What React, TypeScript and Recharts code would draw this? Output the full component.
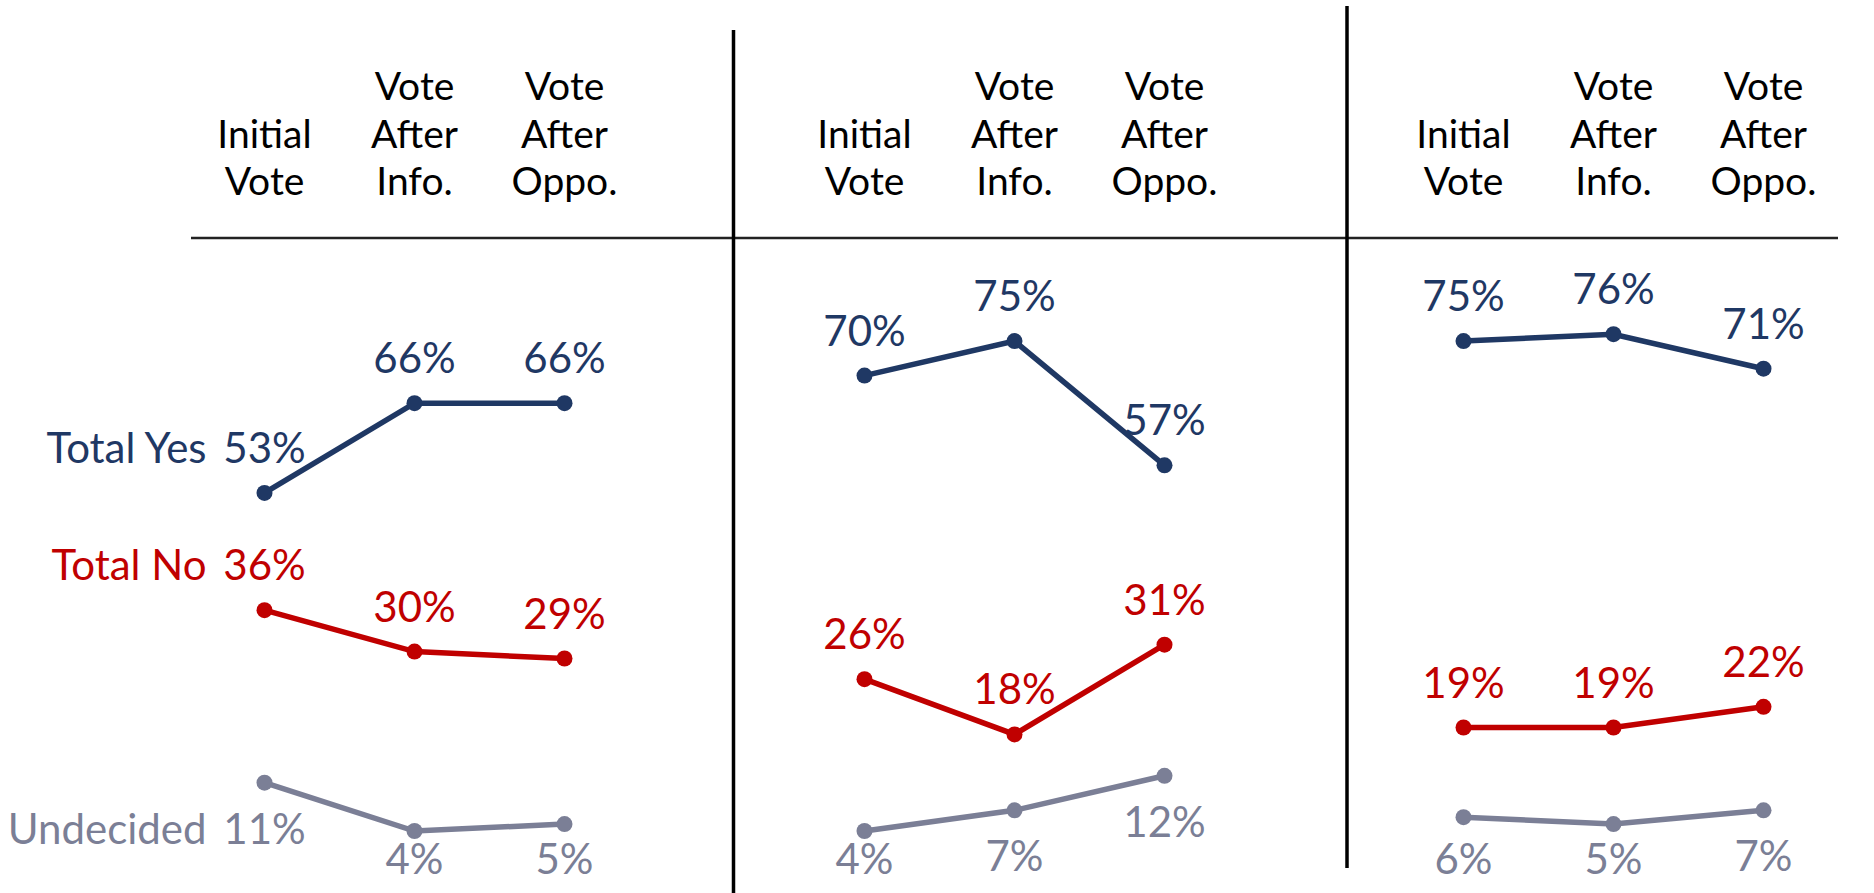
import { LineChart, Line, XAxis, YAxis, LabelList } from "recharts";

// column headers, one entry per category, split into text rows
const categories = ["Initial Vote", "Vote After Info.", "Vote After Oppo."];
const headerLines = [
  ["Initial", "Vote"],
  ["Vote", "After", "Info."],
  ["Vote", "After", "Oppo."],
];

const seriesNames = ["Total Yes", "Total No", "Undecided"];

// panel 1
const yesPanel1 = [53, 66, 66];
const noPanel1 = [36, 30, 29];
const undecidedPanel1 = [11, 4, 5];
// panel 2
const yesPanel2 = [70, 75, 57];
const noPanel2 = [26, 18, 31];
const undecidedPanel2 = [4, 7, 12];
// panel 3
const yesPanel3 = [75, 76, 71];
const noPanel3 = [19, 19, 22];
const undecidedPanel3 = [6, 5, 7];

const panels = [
  { yes: yesPanel1, no: noPanel1, und: undecidedPanel1 },
  { yes: yesPanel2, no: noPanel2, und: undecidedPanel2 },
  { yes: yesPanel3, no: noPanel3, und: undecidedPanel3 },
];

const COLORS = { yes: "#1F3864", no: "#C00000", und: "#7B7F96" };
const FONT = "Lato, 'Open Sans', sans-serif";
const FS = 42;
const HEADER_FS = 39;

const PANEL_LEFT = [0, 599.5, 1198.5];
const CHART_W = 700;
const CHART_H = 893;
const AXIS_H = 60;

// header: rows stacked upward from the bottom row baseline
function HeaderTick(props: any) {
  const { x, payload } = props;
  const lines = headerLines[payload.index] || [];
  const lineGap = 47.5;
  const bottomY = 195;
  return (
    <g>
      {lines.map((t, i) => (
        <text
          key={i}
          x={x}
          y={bottomY - lineGap * (lines.length - 1 - i)}
          textAnchor="middle"
          fontFamily={FONT}
          fontSize={HEADER_FS}
          fill="#000"
        >
          {t}
        </text>
      ))}
    </g>
  );
}

function makeLabel(color: string, below: boolean, name: string | null) {
  return (props: any) => {
    const { x, y, value, index } = props;
    const ty = below ? Math.min(y + 61, 874) : y - 30;
    return (
      <g>
        <text x={x} y={ty} textAnchor="middle" fontFamily={FONT} fontSize={FS} fill={color}>
          {value}%
        </text>
        {name && index === 0 ? (
          <text x={x - 58} y={ty} textAnchor="end" fontFamily={FONT} fontSize={FS} fill={color}>
            {name}
          </text>
        ) : null}
      </g>
    );
  };
}

function Panel({ idx }: { idx: number }) {
  const p = panels[idx];
  const data = categories.map((c, i) => ({ cat: c, yes: p.yes[i], no: p.no[i], und: p.und[i] }));
  const keys: ("yes" | "no" | "und")[] = ["yes", "no", "und"];
  return (
    <div style={{ position: "absolute", left: PANEL_LEFT[idx], top: 0 }}>
      <LineChart
        width={CHART_W}
        height={CHART_H}
        data={data}
        margin={{ top: 168.6 - AXIS_H, right: 135.5, left: 264.5, bottom: 34.4 }}
      >
        <XAxis
          dataKey="cat"
          orientation="top"
          height={AXIS_H}
          axisLine={false}
          tickLine={false}
          interval={0}
          tick={(tp: any) => <HeaderTick {...tp} />}
        />
        <YAxis hide domain={[0, 100]} />
        {keys.map((k, si) => (
          <Line
            key={k}
            dataKey={k}
            stroke={COLORS[k]}
            strokeWidth={5.5}
            dot={{ r: 8, fill: COLORS[k], stroke: COLORS[k], strokeWidth: 0 }}
            isAnimationActive={false}
          >
            <LabelList
              dataKey={k}
              content={makeLabel(COLORS[k], k === "und", idx === 0 ? seriesNames[si] : null)}
            />
          </Line>
        ))}
      </LineChart>
    </div>
  );
}

export default function App() {
  return (
    <div
      style={{
        position: "absolute",
        left: 0,
        top: 0,
        width: 1874,
        height: 893,
        background: "#fff",
        overflow: "hidden",
      }}
    >
      {[0, 1, 2].map((i) => (
        <Panel key={i} idx={i} />
      ))}
      <svg
        width={1874}
        height={893}
        style={{ position: "absolute", left: 0, top: 0, pointerEvents: "none" }}
      >
        <line x1={191} y1={238} x2={1838} y2={238} stroke="#222" strokeWidth={2.5} />
        <line x1={733.5} y1={30} x2={733.5} y2={893} stroke="#000" strokeWidth={3.5} />
        <line x1={1347} y1={6} x2={1347} y2={868} stroke="#000" strokeWidth={3.5} />
      </svg>
    </div>
  );
}
